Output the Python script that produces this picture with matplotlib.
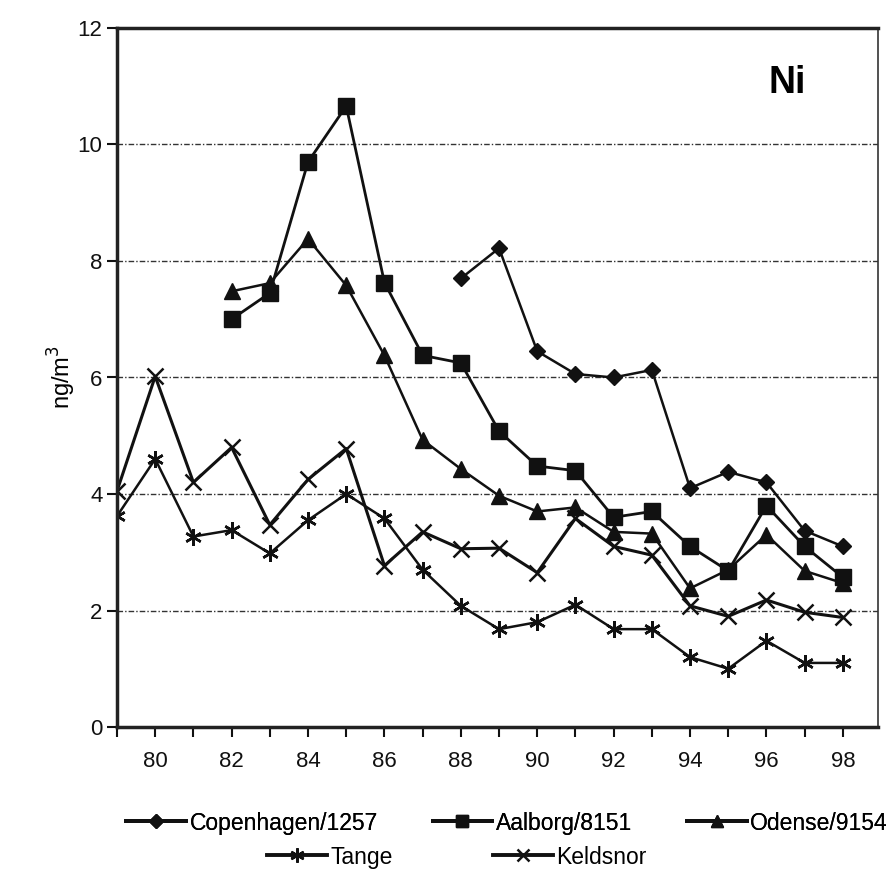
import numpy as np
import matplotlib
matplotlib.use("Agg")
import matplotlib.pyplot as plt

plt.rcParams['font.family'] = ['Liberation Sans', 'DejaVu Sans']

# years (x axis) 79..98
years = list(range(79, 99))

# Ni concentrations, ng/m3 (None = no data)
copenhagen = [None]*9 + [7.7, 8.22, 6.45, 6.06, 6.0, 6.13, 4.1, 4.38, 4.2, 3.37, 3.1]
aalborg = [None]*3 + [7.0, 7.45, 9.7, 10.66, 7.63, 6.38, 6.25, 5.08, 4.48, 4.4, 3.6, 3.7, 3.1, 2.68, 3.8, 3.1, 2.57]
odense = [None]*3 + [7.48, 7.62, 8.38, 7.58, 6.38, 4.93, 4.43, 3.97, 3.7, 3.77, 3.35, 3.32, 2.38, 2.7, 3.3, 2.68, 2.47]
tange = [3.62, 4.6, 3.27, 3.38, 2.98, 3.55, 4.0, 3.58, 2.7, 2.08, 1.68, 1.8, 2.1, 1.68, 1.68, 1.2, 1.0, 1.48, 1.1, 1.1]
keldsnor = [4.05, 6.02, 4.2, 4.8, 3.47, 4.25, 4.78, 2.77, 3.35, 3.06, 3.07, 2.65, 3.58, 3.1, 2.95, 2.08, 1.9, 2.18, 1.97, 1.88]

series = [
    ("Copenhagen/1257", copenhagen, 'D', 8, 1.8),
    ("Aalborg/8151", aalborg, 's', 11, 2.0),
    ("Odense/9154", odense, '^', 11, 1.8),
    ("Tange", tange, (6, 2, 0), 12, 1.8),
    ("Keldsnor", keldsnor, 'x', 11, 2.2),
]

fig = plt.figure(figsize=(8.93, 8.72), dpi=100)
ax = fig.add_axes([117/893, 1-727/872, (878-117)/893, (727-28)/872])

handles = []
for name, vals, mk, ms, lw in series:
    y = np.array([np.nan if v is None else v for v in vals], dtype=float)
    h, = ax.plot(years, y, color='#111111', lw=lw, marker=mk, markersize=ms,
                 markeredgewidth=1.8 if mk in ('x',) or isinstance(mk, tuple) else 1,
                 label=name)
    handles.append(h)

ax.set_xlim(79, 98.92)
ax.set_ylim(0, 12)
ax.set_yticks(range(0, 13, 2))
ax.set_xticks(range(79, 99), minor=True)
ax.set_xticks(range(80, 99, 2))
ax.tick_params(axis='both', which='both', direction='out', length=7, width=1.5,
               labelsize=16, colors='#111111')
ax.tick_params(axis='x', pad=10)

for yv in range(2, 12, 2):
    ax.axhline(yv, color='#333333', lw=1, ls=(0, (4, 1.5, 1, 1.5)), zorder=0)

for s in ['left', 'bottom', 'top']:
    ax.spines[s].set_linewidth(2.5)
    ax.spines[s].set_color('#222222')
ax.spines['right'].set_linewidth(1.2)
ax.spines['right'].set_color('#333333')

ax.set_ylabel("ng/m$^3$", fontsize=17, labelpad=0)
ax.text(0.905, 0.922, "Ni", transform=ax.transAxes, fontsize=27, fontweight='bold',
        ha='right', va='center')

leg1 = fig.legend(handles[:3], [s[0] for s in series[:3]], loc='center',
                  bbox_to_anchor=(507/893, 1-823/872), ncol=3, frameon=False,
                  fontsize=16.5, handlelength=2.6, columnspacing=2.4, handletextpad=0.15,
                  markerscale=0.85)
for l in leg1.get_lines():
    l.set_linewidth(2.8)
fig.add_artist(leg1)
leg2 = fig.legend(handles[3:], [s[0] for s in series[3:]], loc='center',
                  bbox_to_anchor=(457/893, 1-857/872), ncol=2, frameon=False,
                  fontsize=16.5, handlelength=2.6, columnspacing=4.4, handletextpad=0.15,
                  markerscale=0.85)
for l in leg2.get_lines():
    l.set_linewidth(2.8)

fig.savefig("out.png", dpi=100)
